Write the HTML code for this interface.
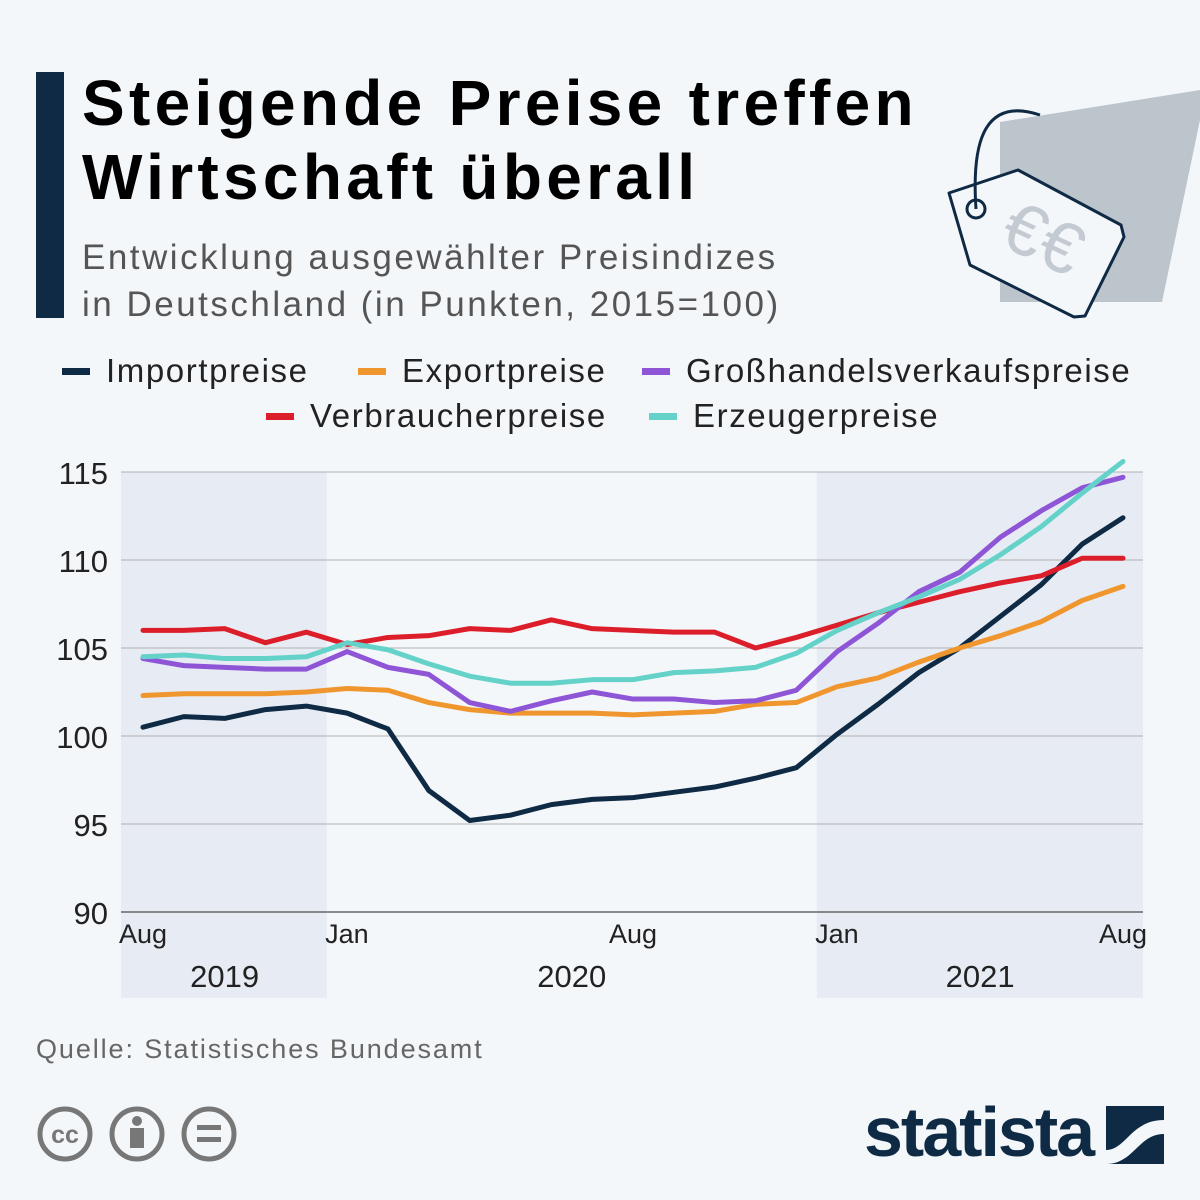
<!DOCTYPE html>
<html><head><meta charset="utf-8">
<style>
body{margin:0;background:#f4f7fa;}
#root{position:relative;width:1200px;height:1200px;background:#f4f7fa;font-family:"Liberation Sans",sans-serif;overflow:hidden}
.t{position:absolute;white-space:nowrap}
</style></head><body>
<div id="root">
<div class="t" style="left:36px;top:72px;width:28px;height:246px;background:#0f2a44"></div>
<div class="t" style="left:82px;top:66px;font-size:64px;font-weight:bold;line-height:74px;color:#000;letter-spacing:4.3px">Steigende Preise treffen<br>Wirtschaft überall</div>
<div class="t" style="left:82px;top:234px;font-size:35px;line-height:47px;color:#555;letter-spacing:2.5px">Entwicklung ausgewählter Preisindizes<br>in Deutschland (in Punkten, 2015=100)</div>
<svg class="t" style="left:0;top:0" width="1200" height="1200">
<g>
<polygon points="1000,122 1200,90 1200,120 1162,302 1000,302" fill="#bcc4cc"/>
<polygon points="949,193 1018,170 1121,225 1124,237 1085,316 1074,317 970,265" fill="#f4f7fa" stroke="#0f2a44" stroke-width="3" stroke-linejoin="round"/>
<circle cx="976" cy="209" r="9" fill="none" stroke="#0f2a44" stroke-width="3"/>
<path d="M976,209 C972,150 980,95 1040,115" fill="none" stroke="#0f2a44" stroke-width="3"/>
<text x="1000" y="262" font-size="72" fill="#c3cad2" transform="rotate(25 1040 245)">€€</text>
</g>
<g id="plot"></g>
</svg>
<div id="legend"></div>
<div class="t" style="left:36px;top:1034px;font-size:27px;color:#666;letter-spacing:1.9px">Quelle: Statistisches Bundesamt</div>
<div class="t" style="left:36px;top:1106px">
<svg width="210" height="56">
<g fill="none" stroke="#777" stroke-width="5"><circle cx="29" cy="28" r="25"/><circle cx="101" cy="28" r="25"/><circle cx="173" cy="28" r="25"/></g>
<text x="29" y="37" font-size="25" font-weight="bold" fill="#777" text-anchor="middle">cc</text>
<circle cx="101" cy="15" r="5" fill="#777"/><rect x="94" y="22" width="14" height="20" fill="#777"/>
<rect x="161" y="19" width="24" height="5" fill="#777"/><rect x="161" y="31" width="24" height="5" fill="#777"/>
</svg></div>
<div class="t" style="left:864px;top:1092px;font-size:70px;font-weight:bold;color:#0f2a44;letter-spacing:-2px">statista</div>
<svg class="t" style="left:1106px;top:1106px" width="58" height="58"><rect width="58" height="58" fill="#0f2a44"/><path d="M0,44 C20,44 25,14 58,14 L58,28 C32,28 28,58 0,58Z" fill="#f4f7fa"/></svg>
</div>
<script>
const months=["Aug","Sep","Okt","Nov","Dez","Jan","Feb","Mär","Apr","Mai","Jun","Jul","Aug","Sep","Okt","Nov","Dez","Jan","Feb","Mär","Apr","Mai","Jun","Jul","Aug"];
const importpreise=[100.5,101.1,101.0,101.5,101.7,101.3,100.4,96.9,95.2,95.5,96.1,96.4,96.5,96.8,97.1,97.6,98.2,100.1,101.8,103.6,105.0,106.8,108.6,110.9,112.4];
const exportpreise=[102.3,102.4,102.4,102.4,102.5,102.7,102.6,101.9,101.5,101.3,101.3,101.3,101.2,101.3,101.4,101.8,101.9,102.8,103.3,104.2,105.0,105.7,106.5,107.7,108.5];
const grosshandel=[104.4,104.0,103.9,103.8,103.8,104.8,103.9,103.5,101.9,101.4,102.0,102.5,102.1,102.1,101.9,102.0,102.6,104.8,106.4,108.2,109.3,111.3,112.8,114.1,114.7];
const verbraucher=[106.0,106.0,106.1,105.3,105.9,105.2,105.6,105.7,106.1,106.0,106.6,106.1,106.0,105.9,105.9,105.0,105.6,106.3,107.0,107.6,108.2,108.7,109.1,110.1,110.1];
const erzeuger=[104.5,104.6,104.4,104.4,104.5,105.3,104.9,104.1,103.4,103.0,103.0,103.2,103.2,103.6,103.7,103.9,104.7,106.0,107.0,107.9,108.9,110.3,111.9,113.8,115.6];
const yTicks=[90,95,100,105,110,115];
const xTickIdx=[0,5,12,17,24];
const years=["2019","2020","2021"];
const yearCenters=[2.0,10.5,20.5];
const NS="http://www.w3.org/2000/svg";
const X=i=>143+i*(980/24);
const Y=v=>912-(v-90)*17.6;
const g=document.getElementById('plot');
function mk(tag,attrs,txt){const e=document.createElementNS(NS,tag);for(const k in attrs)e.setAttribute(k,attrs[k]);if(txt!=null)e.textContent=txt;g.appendChild(e);return e;}
let b1=mk('rect',{x:121,y:Y(115),width:X(4.5)-121,height:998-Y(115),fill:'#e7ecf4'});


let b2=mk('rect',{x:X(16.5),y:Y(115),width:1143-X(16.5),height:998-Y(115),fill:'#e7ecf4'});


yTicks.forEach(v=>{
 let l=mk('line',{x1:121,x2:1143,y1:Y(v),y2:Y(v),stroke:v===90?'#666':'#b0b0b0','stroke-width':v===90?1.5:1});
 
 
 let t=mk('text',{x:108,y:Y(v)+12,'font-size':31,'text-anchor':'end',fill:'#222','font-family':'Liberation Sans'},v);
 
 
});
xTickIdx.forEach(i=>{
 let t=mk('text',{x:X(i),y:943,'font-size':27,'text-anchor':i===5||i===17?'start':'middle',fill:'#222','font-family':'Liberation Sans'},months[i]);
 if(i===5||i===17)t.setAttribute('x',X(i)-22);
 
 
});
years.forEach((y,k)=>{
 let t=mk('text',{x:X(yearCenters[k]),y:987,'font-size':31,'text-anchor':'middle',fill:'#222','font-family':'Liberation Sans'},y);
 
 
});
const series=[["Importpreise",importpreise,"#0f2a44"],["Exportpreise",exportpreise,"#f0962e"],["Großhandelsverkaufspreise",grosshandel,"#8e55d6"],["Verbraucherpreise",verbraucher,"#dc1e2a"],["Erzeugerpreise",erzeuger,"#64d2c8"]];
const order=[0,1,3,2,4];
order.forEach(k=>{const [n,d,c]=series[k];
 let p=mk('polyline',{points:d.map((v,i)=>X(i)+','+Y(v)).join(' '),fill:'none',stroke:c,'stroke-width':5,'stroke-linejoin':'round','stroke-linecap':'round'});
 
 
});
const leg=document.getElementById('legend');
const pos=[[62,352],[358,352],[642,352],[266,397],[649,397]];
series.forEach(([n,d,c],k)=>{
 const e=document.createElement('div');e.className='t';
 e.style.cssText=`left:${pos[k][0]}px;top:${pos[k][1]}px;font-size:33px;color:#222;display:flex;align-items:center;letter-spacing:1.6px`;
 e.innerHTML=`<span style="display:inline-block;width:28px;height:7px;background:${c};margin-right:16px"></span>${n}`;
 
 
 leg.appendChild(e);
});
</script>
</body></html>
